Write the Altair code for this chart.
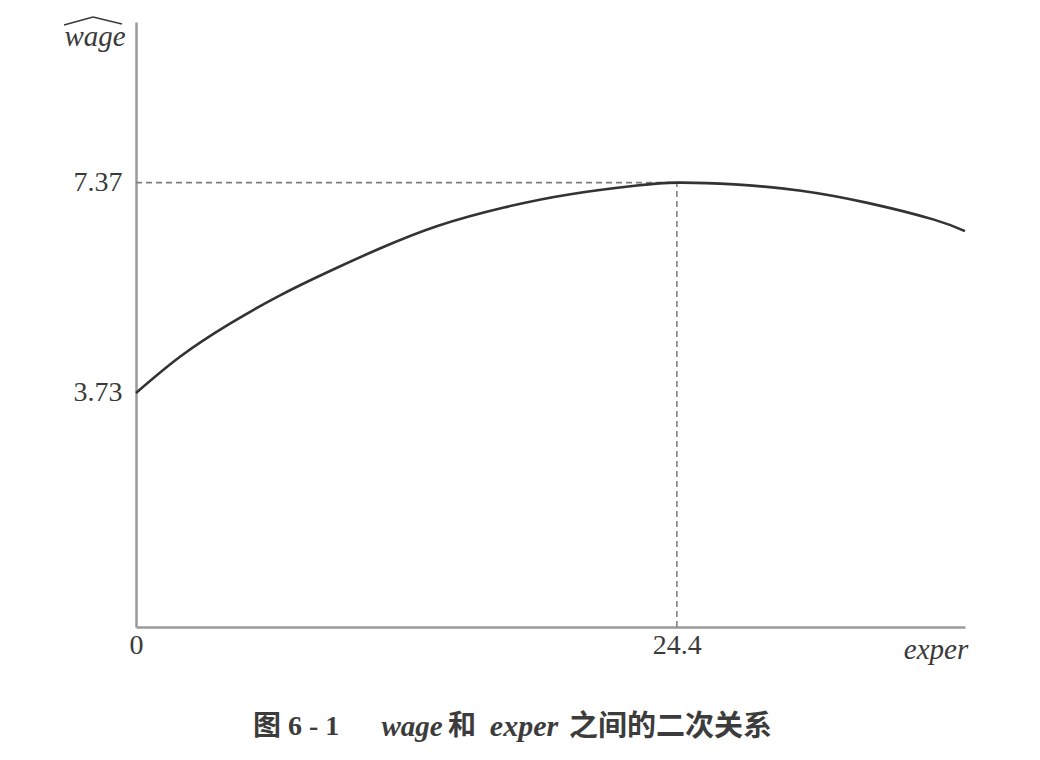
import altair as alt
import pandas as pd

# Curve values
exper = [0, 2.0, 4.2, 6.5, 8.8, 11.0, 13.6, 16.6, 19.6, 22.6, 24.4, 27.0, 30.0, 33.0, 36.0, 37.4]
wage_hat = [3.73, 4.36, 4.92, 5.42, 5.85, 6.23, 6.62, 6.94, 7.17, 7.32, 7.37, 7.34, 7.23, 7.02, 6.73, 6.53]

x_ticks = [0, 24.4]
y_ticks = [3.73, 7.37]
peak_x = 24.4
peak_y = 7.37

X_DOMAIN = [0, 37.4]
Y_DOMAIN = [-0.32, 10.15]

df = pd.DataFrame({"exper": exper, "wage": wage_hat})
guide_h = pd.DataFrame({"x": [0], "x2": [peak_x], "y": [peak_y]})
guide_v = pd.DataFrame({"x": [peak_x], "y": [Y_DOMAIN[0]], "y2": [peak_y]})
one = pd.DataFrame({"a": [0]})

SERIF = "Liberation Serif"
MIXED = '"Liberation Serif", "Noto Sans CJK SC"'

xs = alt.Scale(domain=X_DOMAIN, nice=False, zero=False)
ys = alt.Scale(domain=Y_DOMAIN, nice=False, zero=False)

axis_common = dict(grid=False, ticks=False, domainColor="#9a9a9a", domainWidth=2.5,
                   labelFont=SERIF, labelFontSize=28, labelColor="#3a3a3a", title=None,
                   labelFlush=False, labelOverlap=False)

curve = alt.Chart(df).mark_line(color="#333333", strokeWidth=2.6, interpolate="natural").encode(
    x=alt.X("exper:Q", scale=xs,
            axis=alt.Axis(values=x_ticks, labelPadding=4,
                          labelExpr="datum.value == 0 ? '0' : format(datum.value, '.1f')", **axis_common)),
    y=alt.Y("wage:Q", scale=ys,
            axis=alt.Axis(values=y_ticks, labelPadding=14, format=".2f", **axis_common)),
)

hline = alt.Chart(guide_h).mark_rule(color="#808080", strokeWidth=1.6, strokeDash=[6, 4]).encode(
    x=alt.X("x:Q", scale=xs), x2="x2:Q", y=alt.Y("y:Q", scale=ys)
)
vline = alt.Chart(guide_v).mark_rule(color="#808080", strokeWidth=1.6, strokeDash=[6, 4]).encode(
    x=alt.X("x:Q", scale=xs), y=alt.Y("y:Q", scale=ys), y2="y2:Q"
)

def txt(s, x, y, size=28, style="normal", weight="normal", font=SERIF, align="center", color="#3a3a3a"):
    return alt.Chart(one).mark_text(font=font, fontSize=size, fontStyle=style, fontWeight=weight,
                                    align=align, baseline="middle", color=color).encode(
        x=alt.value(x), y=alt.value(y), text=alt.value(s))

# axis titles
exper_lbl = txt("exper", 800, 628, size=29, style="italic")
wage_lbl = txt("wage", -41, 15, size=29, style="italic")
hat_l = alt.Chart(one).mark_rule(color="#3a3a3a", strokeWidth=1.5).encode(
    x=alt.value(-72), x2=alt.value(-43), y=alt.value(3), y2=alt.value(-5))
hat_r = alt.Chart(one).mark_rule(color="#3a3a3a", strokeWidth=1.5).encode(
    x=alt.value(-43), x2=alt.value(-14), y=alt.value(-5), y2=alt.value(2))

# caption
cy = 705
CAP = "#3c3c3c"
cap = [
    txt("图 6 - 1", 117, cy, size=28, weight="bold", font=MIXED, align="left", color=CAP),
    txt("wage", 276, cy, size=29, weight="bold", style="italic", align="center", color=CAP),
    txt("和", 326, cy, size=28, weight="bold", font=MIXED, align="center", color=CAP),
    txt("exper", 388, cy, size=30, weight="bold", style="italic", align="center", color=CAP),
    txt("之间的二次关系", 433, cy, size=29, weight="bold", font=MIXED, align="left", color=CAP),
]

chart = alt.layer(hline, vline, curve, exper_lbl, wage_lbl, hat_l, hat_r, *cap).properties(
    width=829, height=605,
    background="white",
    autosize=alt.AutoSizeParams(type="none"),
    padding={"left": 136, "top": 22, "right": 75, "bottom": 133},
).configure_view(strokeWidth=0, stroke="transparent")

chart.save("out.html", embed_options={"renderer": "svg", "actions": False})
